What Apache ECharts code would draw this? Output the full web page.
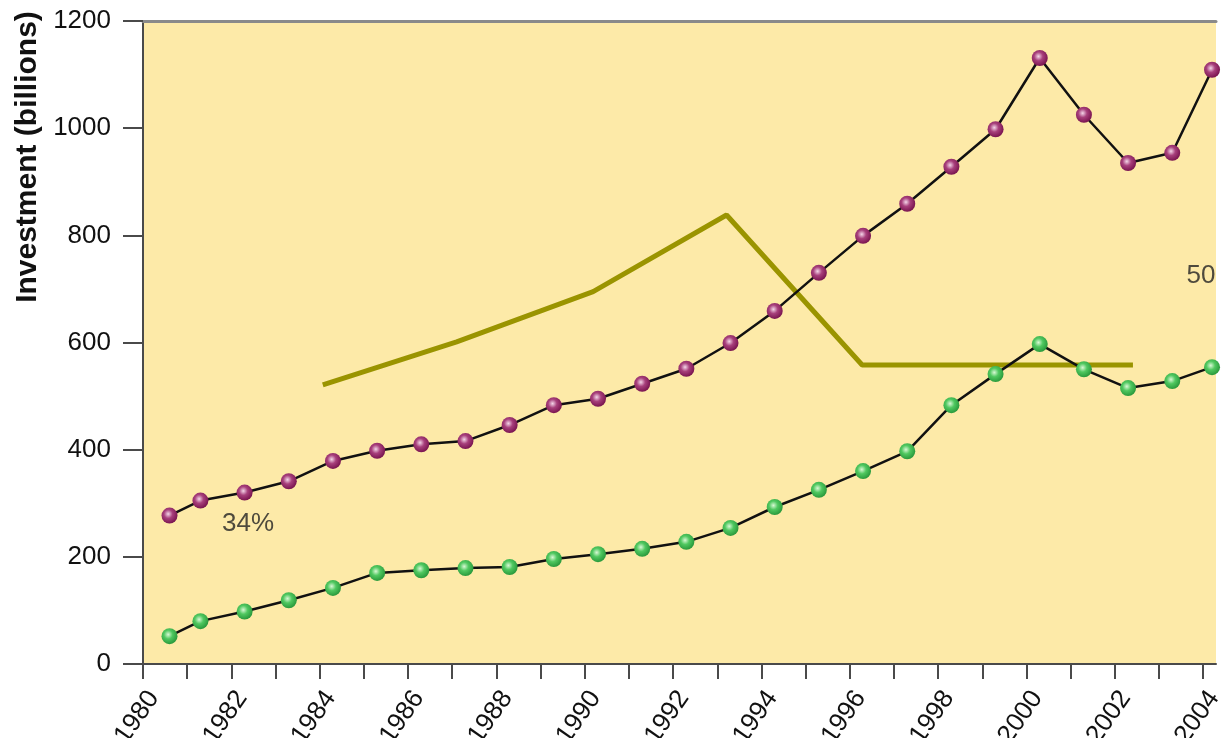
<!DOCTYPE html>
<html><head><meta charset="utf-8">
<script src="https://cdn.jsdelivr.net/npm/echarts@6/dist/echarts.min.js"></script>
<style>html,body{margin:0;padding:0;background:#fff}#c{width:1224px;height:738px}</style>
</head><body><div id="c"></div>
<script>
// ---- data ----
const years = [1980.6, 1981.3, 1982.3, 1983.3, 1984.3, 1985.3, 1986.3, 1987.3, 1988.3, 1989.3, 1990.3, 1991.3, 1992.3, 1993.3, 1994.3, 1995.3, 1996.3, 1997.3, 1998.3, 1999.3, 2000.3, 2001.3, 2002.3, 2003.3, 2004.2];
const purpleValues = [277, 305, 320, 341, 379, 398, 410, 416, 446, 483, 495, 523, 551, 599, 659, 730, 799, 859, 928, 998, 1131, 1025, 935, 954, 1109];
const greenValues = [52, 80, 98, 119, 142, 170, 175, 179, 181, 196, 205, 215, 228, 254, 293, 325, 360, 397, 483, 541, 597, 550, 515, 528, 554];
const oliveYears = [1984.07, 1987.1, 1990.19, 1993.21, 1996.28, 2002.41];
const oliveValues = [521, 601, 695, 838, 558, 558];
const tickYears = [1980,1981,1982,1983,1984,1985,1986,1987,1988,1989,1990,1991,1992,1993,1994,1995,1996,1997,1998,1999,2000,2001,2002,2003,2004];
const labelYears = [1980,1982,1984,1986,1988,1990,1992,1994,1996,1998,2000,2002,2004];
const annotationTexts = ['34%', '50'];
const annotationYears = [1982.38, 2003.95];
const annotationValues = [261, 724];
const yAxisTitle = 'Investment (billions)';

const zip = (xs, ys) => xs.map((x, i) => [x, ys[i]]);
const ball = (hi, mid, lo) => ({
  type: 'radial', x: 0.42, y: 0.4, r: 0.6,
  colorStops: [{offset: 0, color: hi}, {offset: 0.45, color: mid}, {offset: 1, color: lo}]
});
const FONT = '"Liberation Sans", Arial, sans-serif';

const chart = echarts.init(document.getElementById('c'), null, {renderer: 'canvas'});
chart.setOption({
  animation: false,
  backgroundColor: '#ffffff',
  grid: {left: 143, top: 21, right: 8, bottom: 74, show: true, backgroundColor: '#fdeaa8', borderWidth: 0,
    containLabel: false, outerBoundsMode: 'none'},
  xAxis: [{
    type: 'value', min: 1980, max: 2004.29, position: 'bottom',
    axisLine: {show: true, onZero: false, lineStyle: {color: '#4a4a4a', width: 2}},
    axisTick: {show: true, length: 15, customValues: tickYears, lineStyle: {color: '#4a4a4a', width: 2}},
    axisLabel: {customValues: labelYears, rotate: 55, margin: 22, verticalAlign: 'top', color: '#111', fontSize: 26, fontFamily: FONT,
      formatter: v => String(Math.round(v))},
    splitLine: {show: false}
  }, {
    type: 'value', min: 1980, max: 2004.29, position: 'top',
    axisLine: {show: true, onZero: false, lineStyle: {color: '#8a8a8a', width: 3}},
    axisTick: {show: false}, axisLabel: {show: false}, splitLine: {show: false}
  }],
  yAxis: {
    type: 'value', min: 0, max: 1200, interval: 200,
    axisLine: {show: true, lineStyle: {color: '#4a4a4a', width: 2}},
    axisTick: {show: true, length: 20, lineStyle: {color: '#4a4a4a', width: 2}},
    axisLabel: {margin: 32, color: '#111', fontSize: 26, fontFamily: FONT, formatter: v => String(v)},
    splitLine: {show: false}
  },
  graphic: [{
    type: 'text', x: 28, y: 157, rotation: Math.PI / 2,
    style: {text: yAxisTitle, font: 'bold 30px ' + FONT, fill: '#111', align: 'center', verticalAlign: 'middle'}
  }],
  series: [{
    type: 'line', data: zip(oliveYears, oliveValues), symbol: 'none', z: 2,
    lineStyle: {color: '#9a9400', width: 5}
  }, {
    type: 'line', data: zip(years, purpleValues), symbol: 'circle', symbolSize: 16, clip: false, z: 3,
    lineStyle: {color: '#111', width: 2.5},
    itemStyle: {color: ball('#f4d6e8', '#a8407c', '#7a1550'), borderWidth: 0}
  }, {
    type: 'line', data: zip(years, greenValues), symbol: 'circle', symbolSize: 16, clip: false, z: 3,
    lineStyle: {color: '#111', width: 2.5},
    itemStyle: {color: ball('#d8f8d4', '#50c860', '#2a9a3c'), borderWidth: 0}
  }, {
    type: 'scatter', symbolSize: 0, z: 4,
    data: annotationTexts.map((t, i) => ({name: t, value: [annotationYears[i], annotationValues[i]]})),
    label: {show: true, position: 'inside', formatter: p => p.name, color: '#222', fontSize: 26, fontFamily: FONT}
  }]
});
</script></body></html>
